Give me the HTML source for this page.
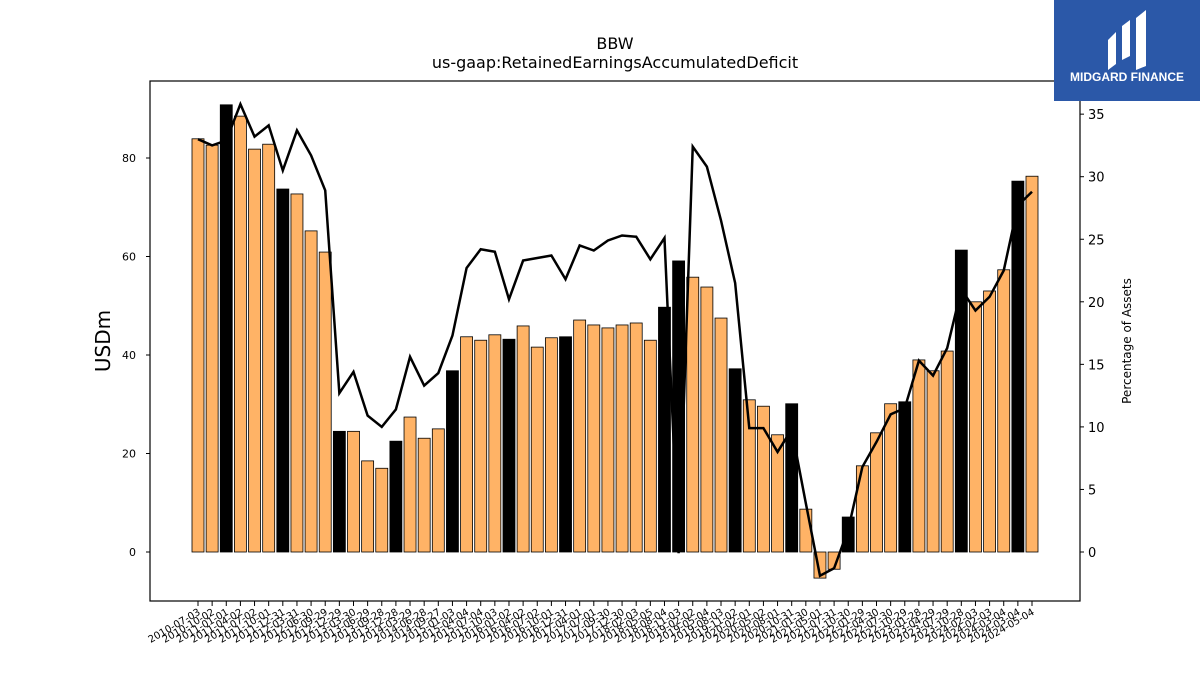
<!DOCTYPE html>
<html><head><meta charset="utf-8"><style>
body{margin:0;background:#fff;font-family:"Liberation Sans","DejaVu Sans",sans-serif}
</style></head><body>
<svg id="chart" width="1200" height="675" xmlns="http://www.w3.org/2000/svg" font-family="DejaVu Sans, Liberation Sans, sans-serif">
<rect width="1200" height="675" fill="#fff"/>
<text x="615" y="49" font-size="16" text-anchor="middle">BBW</text>
<text x="615" y="68" font-size="16" text-anchor="middle">us-gaap:RetainedEarningsAccumulatedDeficit</text>
<g id="bars"></g>
<g id="line"></g>
<rect x="150" y="81" width="930" height="520" fill="none" stroke="#000" stroke-width="1.2"/>
<g id="axes"></g>
<text transform="translate(110,341) rotate(-90)" font-size="20" text-anchor="middle">USDm</text>
<text transform="translate(1131,341) rotate(-90)" font-size="12" text-anchor="middle">Percentage of Assets</text>
<g>
<rect x="1054" y="0" width="146" height="101" fill="#2b58a8"/>
<path d="M1108 70 L1108 40 L1116 32 L1116 64 Z M1122 60 L1122 26 L1130 20 L1130 56 Z M1136 70 L1136 18 L1146 10 L1146 66 Z" fill="#fff"/>
<text x="1127" y="81" font-size="12" font-weight="bold" fill="#fff" text-anchor="middle" font-family="Liberation Sans, sans-serif">MIDGARD FINANCE</text>
</g>
</svg>
<script>
const dates=["2010-07-03","2010-10-02","2011-01-01","2011-04-02","2011-07-02","2011-10-01","2011-12-31","2012-03-31","2012-06-30","2012-09-29","2012-12-29","2013-03-30","2013-06-29","2013-09-28","2013-12-28","2014-03-29","2014-06-28","2014-09-27","2015-01-03","2015-04-04","2015-07-04","2015-10-03","2016-01-02","2016-04-02","2016-07-02","2016-10-01","2016-12-31","2017-04-01","2017-07-01","2017-09-30","2017-12-30","2018-02-03","2018-05-05","2018-08-04","2018-11-03","2019-02-02","2019-05-04","2019-08-03","2019-11-02","2020-02-01","2020-05-02","2020-08-01","2020-10-31","2021-01-30","2021-05-01","2021-07-31","2021-10-30","2022-01-29","2022-04-30","2022-07-30","2022-10-29","2023-01-28","2023-04-29","2023-07-29","2023-10-28","2024-02-03","2024-02-03","2024-03-04","2024-03-04","2024-05-04"];
const values=[83.9,82.6,90.8,88.5,81.8,82.8,73.7,72.7,65.2,60.9,24.5,24.5,18.5,17,22.5,27.4,23.1,25,36.8,43.7,43.0,44.1,43.2,45.9,41.6,43.5,43.7,47.1,46.1,45.5,46.1,46.5,43.0,49.7,59.1,55.8,53.8,47.5,37.2,30.9,29.6,23.8,30.1,8.7,-5.3,-3.5,7.1,17.5,24.2,30.1,30.5,39.0,36.8,40.8,61.3,50.8,53,57.3,75.3,76.3];
const annual=[0,0,1,0,0,0,1,0,0,0,1,0,0,0,1,0,0,0,1,0,0,0,1,0,0,0,1,0,0,0,0,0,0,1,1,0,0,0,1,0,0,0,1,0,0,0,1,0,0,0,1,0,0,0,1,0,0,0,1,0];
const pct=[33.0,32.5,32.9,35.8,33.2,34.1,30.5,33.7,31.7,28.9,12.7,14.4,10.9,10.0,11.4,15.6,13.3,14.3,17.3,22.7,24.2,24.0,20.2,23.3,23.5,23.7,21.8,24.5,24.1,24.9,25.3,25.2,23.4,25.1,-0.1,32.4,30.8,26.5,21.5,9.9,9.9,8.0,9.8,3.9,-1.9,-1.3,1.8,6.8,8.8,11.0,11.5,15.3,14.1,16.3,21.0,19.3,20.4,22.5,27.7,28.8];
const leftTicks=[0,20,40,60,80];
const rightTicks=[0,5,10,15,20,25,30,35];
const NS="http://www.w3.org/2000/svg";
const x=i=>198+i*(1032-198)/(dates.length-1);
const yL=v=>552-v*4.925;
const yR=v=>552-v*12.51;
function mk(t,a,p){const e=document.createElementNS(NS,t);for(const k in a)e.setAttribute(k,a[k]);p.appendChild(e);return e;}
const bars=document.getElementById('bars');
values.forEach((v,i)=>{
  const r=mk('rect',{x:x(i)-6,y:Math.min(yL(v),yL(0)),width:12,height:Math.abs(yL(v)-yL(0)),fill:annual[i]?'#000':'#ffb366',stroke:'#000','stroke-width':0.8},bars);
  
  
});
const line=document.getElementById('line');
const pl=mk('polyline',{points:pct.map((v,i)=>x(i)+','+yR(v)).join(' '),fill:'none',stroke:'#000','stroke-width':2.5},line);


const axes=document.getElementById('axes');
leftTicks.forEach(t=>{
  const l=mk('line',{x1:146,x2:150,y1:yL(t),y2:yL(t),stroke:'#000'},axes);
  
  
  const tx=mk('text',{x:136,y:yL(t)+4,'font-size':11,'text-anchor':'end'},axes);
  tx.textContent=t;
  
  
});
rightTicks.forEach(t=>{
  const l=mk('line',{x1:1080,x2:1084,y1:yR(t),y2:yR(t),stroke:'#000'},axes);
  
  
  const tx=mk('text',{x:1088,y:yR(t)+5,'font-size':13},axes);
  tx.textContent=t;
  
  
});
dates.forEach((d,i)=>{
  const l=mk('line',{x1:x(i),x2:x(i),y1:601,y2:606,stroke:'#000'},axes);
  
  
  const tx=mk('text',{transform:`translate(${x(i)+3},${614}) rotate(-30)`,'font-size':10,'text-anchor':'end'},axes);
  tx.textContent=d;
  
  
});
</script>
</body></html>
